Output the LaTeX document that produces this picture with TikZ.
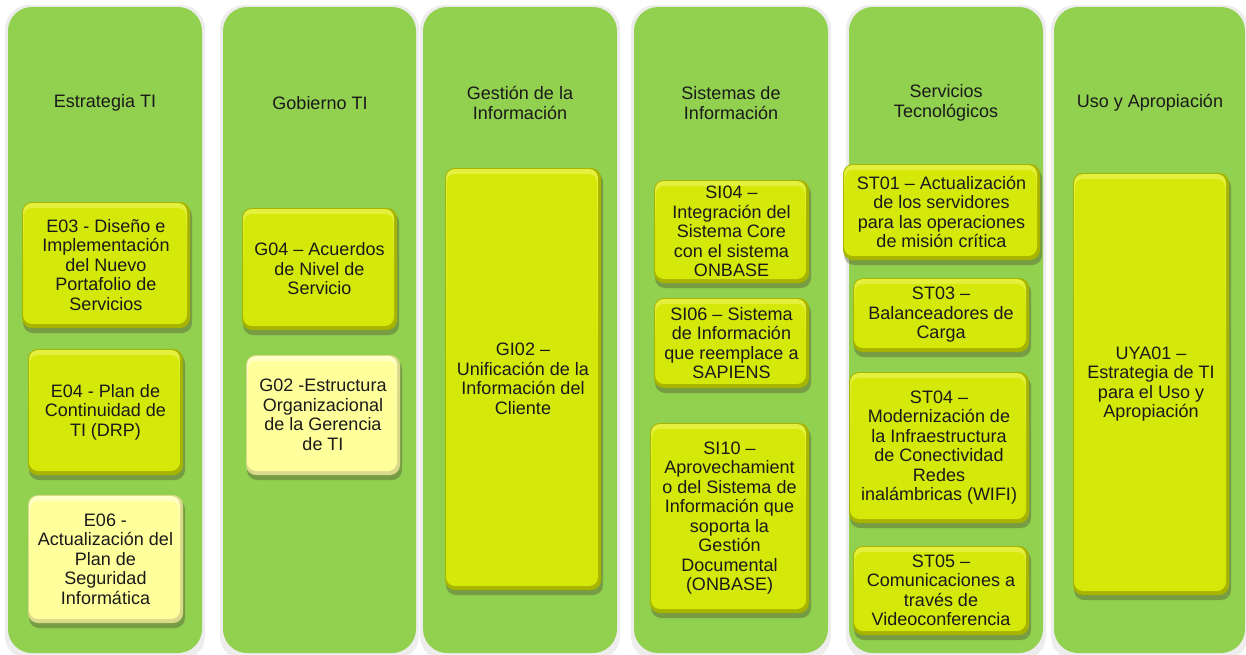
\documentclass[tikz,border=0pt]{standalone}
\usepackage{fontspec}
\setmainfont{Liberation Sans}
\usetikzlibrary{calc}
\definecolor{colgreen}{HTML}{92D050}
\definecolor{ygmain}{HTML}{D4E80A}
\definecolor{ygedge}{HTML}{A6B400}
\definecolor{ygtop}{HTML}{E4F040}
\definecolor{ltmain}{HTML}{FFFF9C}
\definecolor{ltedge}{HTML}{D9D98A}
\definecolor{lttop}{HTML}{FFFFC8}
\definecolor{txt}{HTML}{1A1A1A}
\tikzset{
  colbox/.style={fill=colgreen, rounded corners=24pt},
  colshadow/.style={fill=black, opacity=0.07, rounded corners=24pt},
  boxshadow/.style={fill=black!70!olive, opacity=0.35, rounded corners=10pt},
  lbl/.style={align=center, text=txt, font=\fontsize{18}{19.5}\selectfont, inner sep=0pt},
}
% \itembox{name}{x1}{y1}{x2}{y2}{style prefix yg/lt}{text}
\newcommand\itembox[7]{%
  \fill[boxshadow] (#2+1,#3+4) rectangle (#4+2,#5+5);
  \fill[#6edge, rounded corners=10pt] (#2,#3) rectangle (#4,#5);
  \path[rounded corners=9pt, top color=#6top, bottom color=#6main, middle color=#6main]
       (#2+1,#3+1) rectangle (#4-3,#5-4);
  \fill[#6main, rounded corners=8pt] (#2+2,#3+6) rectangle (#4-4,#5-5);
  \node[lbl] (#1) at ({(#2+#4)/2},{(#3+#5)/2}) {#7};
}
\begin{document}
\begin{tikzpicture}[x=1pt,y=-1pt]
\useasboundingbox (0,0) rectangle (1246,654);
\fill[white] (0,0) rectangle (1246,654);
% columns
\foreach \a/\b in {8/202, 223/416, 423/617, 634/828, 849/1043, 1054/1245}{
  \fill[colshadow] (\a-3,5) rectangle (\b+3,660);
  \fill[colbox] (\a,7) rectangle (\b,653);
}
% titles
\node[lbl] (t1) at (105,103) {Estrategia TI};
\node[lbl] (t2) at (320,103) {Gobierno TI};
\node[lbl] (t3) at (520,103) {Gestión de la\\Información};
\node[lbl] (t4) at (731,103) {Sistemas de\\Información};
\node[lbl] (t5) at (946,103) {Servicios\\Tecnológicos};
\node[lbl] (t6) at (1150,103) {Uso y Apropiación};
% items
\itembox{e03}{22}{202}{190}{328}{yg}{E03 - Diseño e\\Implementación\\del Nuevo\\Portafolio de\\Servicios}
\itembox{e04}{28}{349}{183}{475}{yg}{E04 - Plan de\\Continuidad de\\TI (DRP)}
\itembox{e06}{28}{495}{183}{623}{lt}{E06 -\\Actualización del\\Plan de\\Seguridad\\Informática}
\itembox{g04}{242}{208}{397}{330}{yg}{G04 – Acuerdos\\de Nivel de\\Servicio}
\itembox{g02}{246}{355}{400}{475}{lt}{G02 -Estructura\\Organizacional\\de la Gerencia\\de TI}
\itembox{gi02}{445}{168}{601}{590}{yg}{GI02 –\\Unificación de la\\Información del\\Cliente}
\itembox{si04}{654}{180}{809}{283}{yg}{SI04 –\\Integración del\\Sistema Core\\con el sistema\\ONBASE}
\itembox{si06}{654}{298}{809}{388}{yg}{SI06 – Sistema\\de Información\\que reemplace a\\SAPIENS}
\itembox{si10}{650}{423}{809}{613}{yg}{SI10 –\\Aprovechamient\\o del Sistema de\\Información que\\soporta la\\Gestión\\Documental\\(ONBASE)}
\itembox{st01}{843}{164}{1040}{260}{yg}{ST01 – Actualización\\de los servidores\\para las operaciones\\de misión crítica}
\itembox{st03}{853}{278}{1029}{352}{yg}{ST03 –\\Balanceadores de\\Carga}
\itembox{st04}{849}{372}{1029}{523}{yg}{ST04 –\\Modernización de\\la Infraestructura\\de Conectividad\\Redes\\inalámbricas (WIFI)}
\itembox{st05}{853}{546}{1029}{635}{yg}{ST05 –\\Comunicaciones a\\través de\\Videoconferencia}
\itembox{uya01}{1073}{173}{1229}{595}{yg}{UYA01 –\\Estrategia de TI\\para el Uso y\\Apropiación}
\end{tikzpicture}
\end{document}
